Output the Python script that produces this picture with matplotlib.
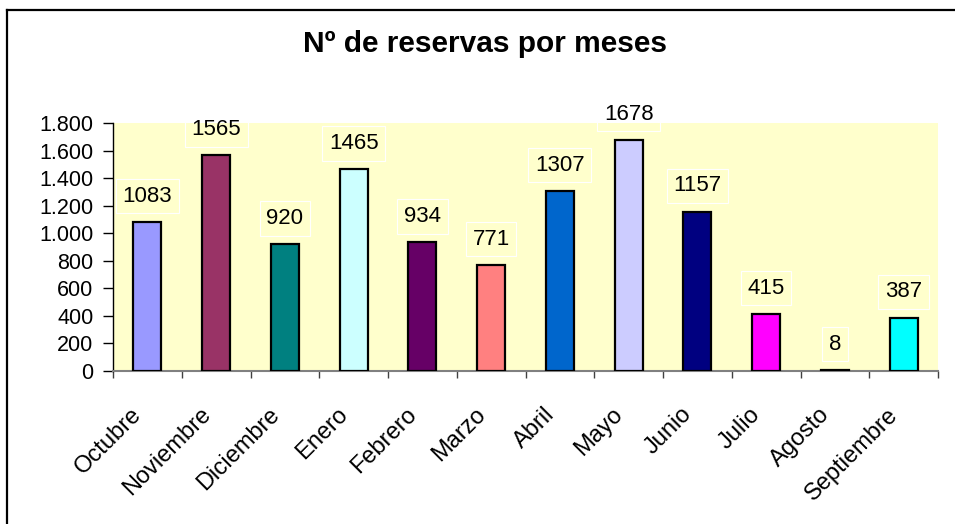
import matplotlib
matplotlib.use("Agg")
import matplotlib.pyplot as plt
from matplotlib.lines import Line2D
from matplotlib.transforms import ScaledTranslation
from matplotlib.ticker import FixedLocator, FuncFormatter

months = ["Octubre", "Noviembre", "Diciembre", "Enero", "Febrero", "Marzo",
          "Abril", "Mayo", "Junio", "Julio", "Agosto", "Septiembre"]
reservas = [1083, 1565, 920, 1465, 934, 771, 1307, 1678, 1157, 415, 8, 387]
colors = ["#9999FF", "#993366", "#008080", "#CCFFFF", "#660066", "#FF8080",
          "#0066CC", "#CCCCFF", "#000080", "#FF00FF", "#FFFF00", "#00FFFF"]
yticks = [0, 200, 400, 600, 800, 1000, 1200, 1400, 1600, 1800]
title = "Nº de reservas por meses"

plt.rcParams['font.family'] = ['Liberation Sans', 'DejaVu Sans']

W, H = 955, 524
fig = plt.figure(figsize=(W / 100, H / 100), dpi=100)
fig.patch.set_facecolor("white")

left, right, top, bottom = 113, 938, 123, 371
ax = fig.add_axes([left / W, 1 - bottom / H, (right - left) / W, (bottom - top) / H])
ax.set_facecolor("#FFFFCC")

x = list(range(len(months)))
ax.bar(x, reservas, width=0.41, color=colors, edgecolor="black", linewidth=1.6, zorder=3)

ax.set_xlim(-0.5, len(months) - 0.5)
ax.set_ylim(0, 1800)

for xi, v in zip(x, reservas):
    ax.annotate(str(v), (xi, v), xytext=(0, 18.5), textcoords="offset points",
                ha="center", va="center", fontsize=16, color="black",
                bbox=dict(boxstyle="square,pad=0.3", facecolor="none",
                          edgecolor="white", linewidth=0.8),
                annotation_clip=False, zorder=4)

ax.set_yticks(yticks)
ax.yaxis.set_major_formatter(FuncFormatter(lambda v, p: f"{int(v):,}".replace(",", ".")))
ax.tick_params(axis="y", direction="out", length=7.2, width=1, color="black",
               labelsize=15.5, pad=7)

ax.set_xticks(x)
ax.set_xticklabels(months)
ax.xaxis.set_minor_locator(FixedLocator([i - 0.5 for i in range(len(months) + 1)]))
ax.tick_params(axis="x", which="major", length=0, labelsize=17, pad=29)
ax.tick_params(axis="x", which="minor", direction="out", length=5, width=1, color="#404040")
shift = ScaledTranslation(-9 / 100, 0, fig.dpi_scale_trans)
for lbl in ax.get_xticklabels():
    lbl.set_rotation(45)
    lbl.set_ha("right")
    lbl.set_va("center")
    lbl.set_rotation_mode("anchor")
    lbl.set_transform(lbl.get_transform() + shift)

for s in ["top", "right"]:
    ax.spines[s].set_visible(False)
ax.spines["left"].set_color("black")
ax.spines["left"].set_linewidth(1)
ax.spines["bottom"].set_color("#808080")
ax.spines["bottom"].set_linewidth(1.5)

fig.text(485 / W, 1 - 44 / H, title, ha="center", va="center",
         fontsize=21.5, fontweight="bold")

# outer chart frame (left and top edges visible)
fig.add_artist(Line2D([7 / W, 7 / W], [0, 1 - 9.5 / H], transform=fig.transFigure,
                      color="black", linewidth=1.6))
fig.add_artist(Line2D([7 / W, 1], [1 - 9.5 / H, 1 - 9.5 / H], transform=fig.transFigure,
                      color="black", linewidth=1.6))

fig.savefig("out.png", dpi=100)
